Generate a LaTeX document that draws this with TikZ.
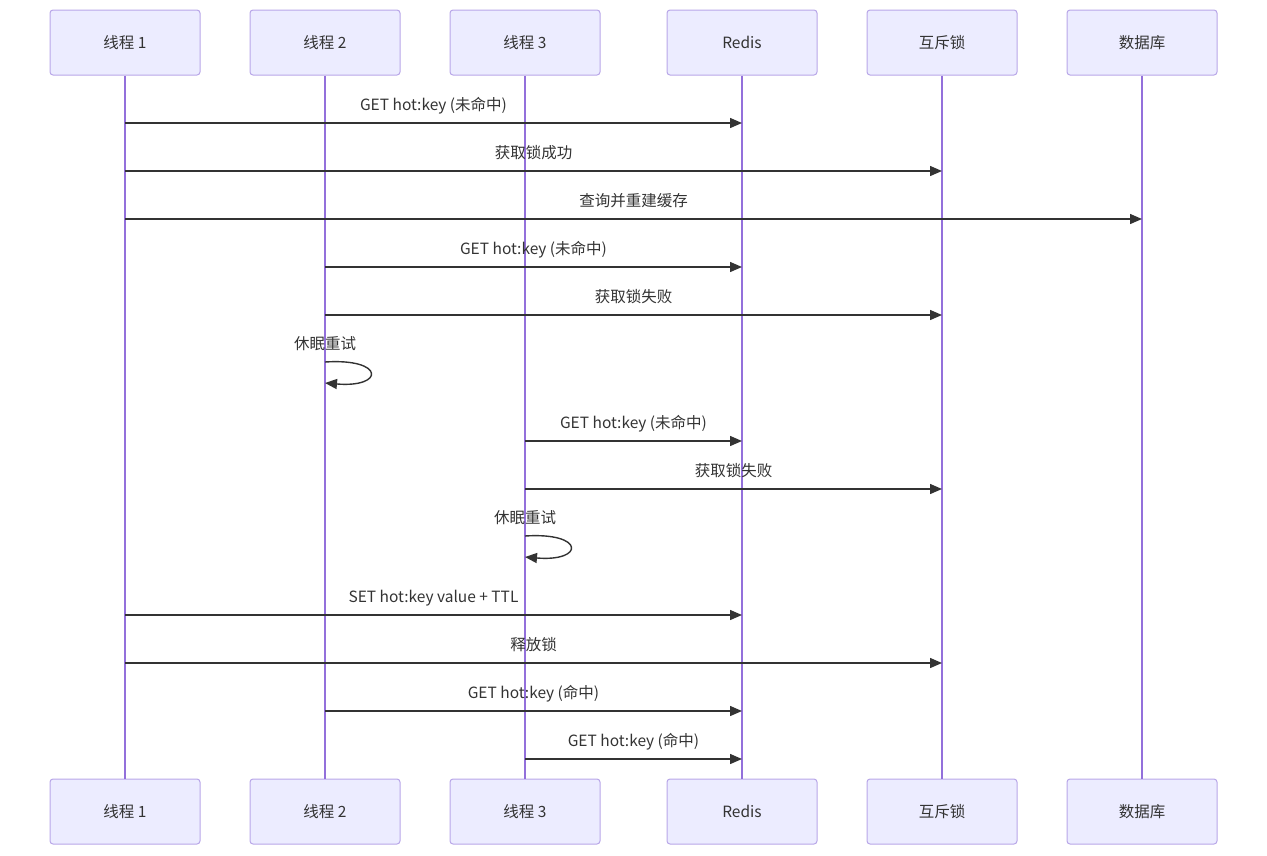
\documentclass[tikz,border=0pt]{standalone}
\usepackage{fontspec}
\setmainfont{Noto Sans CJK SC}
\usetikzlibrary{arrows.meta}
\definecolor{actfill}{HTML}{ECECFF}
\definecolor{actline}{HTML}{B8A6E8}
\definecolor{life}{HTML}{9370DB}
\definecolor{ink}{HTML}{333333}

\begin{document}
\begin{tikzpicture}[x=1pt,y=-1pt,font=\fontsize{15.5}{18}\selectfont,text=ink,
  actor/.style={draw=actline,fill=actfill,rounded corners=3pt,line width=1pt,
    minimum width=150pt,minimum height=65pt,inner sep=0pt},
  lifeline/.style={life,line width=1.5pt},
  msg/.style={ink,line width=1.4pt,-{Triangle[length=12pt,width=10pt]}},
  lbl/.style={anchor=base,yshift=13pt,inner sep=0pt}]
  \useasboundingbox (0,0) rectangle (1267,855);
  % actors, top and bottom
  \node[actor] (t1) at (125,42.5) {线程 1};
  \node[actor] (t2) at (325,42.5) {线程 2};
  \node[actor] (t3) at (525,42.5) {线程 3};
  \node[actor] (redis) at (742,42.5) {Redis};
  \node[actor] (mutex) at (942,42.5) {互斥锁};
  \node[actor] (db) at (1142,42.5) {数据库};
  \node[actor] (t1b) at (125,811.5) {线程 1};
  \node[actor] (t2b) at (325,811.5) {线程 2};
  \node[actor] (t3b) at (525,811.5) {线程 3};
  \node[actor] (redisb) at (742,811.5) {Redis};
  \node[actor] (mutexb) at (942,811.5) {互斥锁};
  \node[actor] (dbb) at (1142,811.5) {数据库};
  % lifelines
  \draw[lifeline] (t1) -- (t1b);
  \draw[lifeline] (t2) -- (t2b);
  \draw[lifeline] (t3) -- (t3b);
  \draw[lifeline] (redis) -- (redisb);
  \draw[lifeline] (mutex) -- (mutexb);
  \draw[lifeline] (db) -- (dbb);
  % message rows
  \coordinate (r1) at (0,123);
  \coordinate (r2) at (0,171);
  \coordinate (r3) at (0,219);
  \coordinate (r4) at (0,267);
  \coordinate (r5) at (0,315);
  \coordinate (r6) at (0,362);
  \coordinate (r6e) at (0,383);
  \coordinate (r7) at (0,441);
  \coordinate (r8) at (0,489);
  \coordinate (r9) at (0,536);
  \coordinate (r9e) at (0,557);
  \coordinate (r10) at (0,615);
  \coordinate (r11) at (0,663);
  \coordinate (r12) at (0,711);
  \coordinate (r13) at (0,759);
  % messages
  \draw[msg] (t1 |- r1) -- (redis |- r1) node[lbl,midway] (l1) {GET hot:key (未命中)};
  \draw[msg] (t1 |- r2) -- (mutex |- r2) node[lbl,midway] (l2) {获取锁成功};
  \draw[msg] (t1 |- r3) -- (db |- r3) node[lbl,midway] (l3) {查询并重建缓存};
  \draw[msg] (t2 |- r4) -- (redis |- r4) node[lbl,midway] (l4) {GET hot:key (未命中)};
  \draw[msg] (t2 |- r5) -- (mutex |- r5) node[lbl,midway] (l5) {获取锁失败};
  \draw[msg] (t2 |- r6) .. controls +(60,-4) and +(60,5) .. (t2 |- r6e);
  \path (t2 |- r6) node[lbl] (l6) {休眠重试};
  \draw[msg] (t3 |- r7) -- (redis |- r7) node[lbl,midway] (l7) {GET hot:key (未命中)};
  \draw[msg] (t3 |- r8) -- (mutex |- r8) node[lbl,midway] (l8) {获取锁失败};
  \draw[msg] (t3 |- r9) .. controls +(60,-4) and +(60,5) .. (t3 |- r9e);
  \path (t3 |- r9) node[lbl] (l9) {休眠重试};
  \draw[msg] (t1 |- r10) -- (redis |- r10) node[lbl,midway] (l10) {SET hot:key value + TTL};
  \draw[msg] (t1 |- r11) -- (mutex |- r11) node[lbl,midway] (l11) {释放锁};
  \draw[msg] (t2 |- r12) -- (redis |- r12) node[lbl,midway] (l12) {GET hot:key (命中)};
  \draw[msg] (t3 |- r13) -- (redis |- r13) node[lbl,midway] (l13) {GET hot:key (命中)};
\end{tikzpicture}
\end{document}
